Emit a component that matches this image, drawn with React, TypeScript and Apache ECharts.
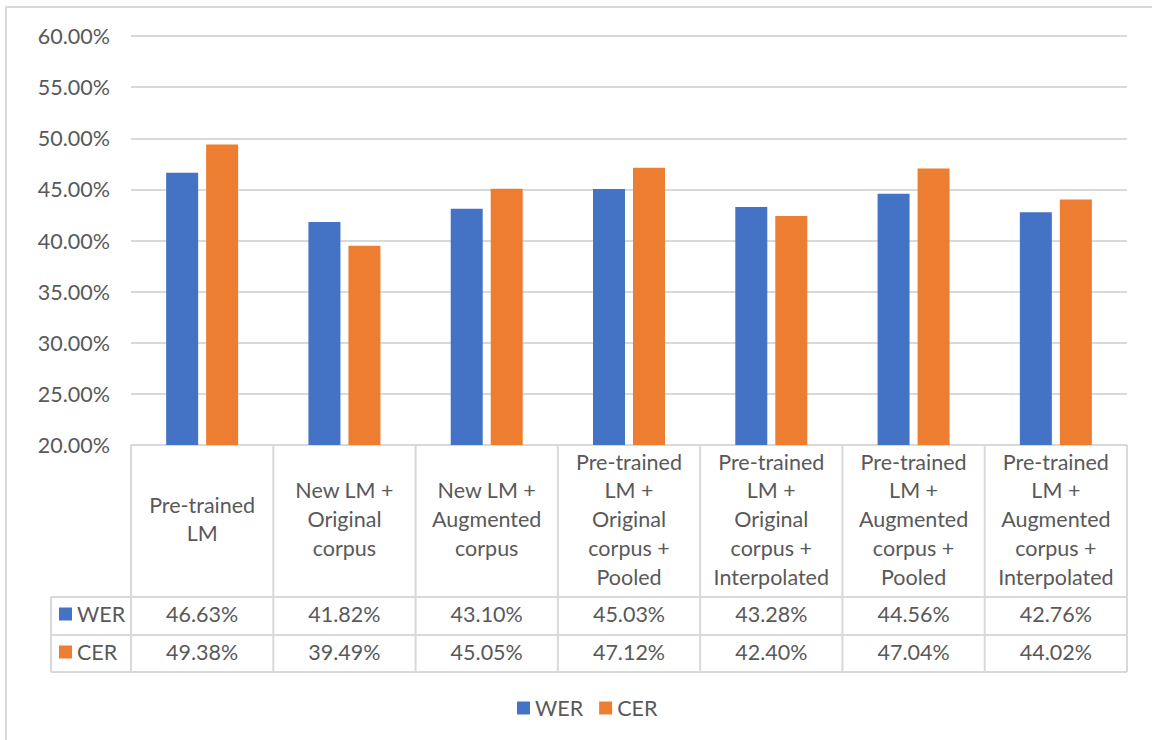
import React, { useEffect, useRef } from "react";
import * as echarts from "echarts";

// Category names as shown in the data-table header (wrapped the way they are printed)
const categoryLabels = [
  "Pre-trained\nLM",
  "New LM +\nOriginal\ncorpus",
  "New LM +\nAugmented\ncorpus",
  "Pre-trained\nLM +\nOriginal\ncorpus +\nPooled",
  "Pre-trained\nLM +\nOriginal\ncorpus +\nInterpolated",
  "Pre-trained\nLM +\nAugmented\ncorpus +\nPooled",
  "Pre-trained\nLM +\nAugmented\ncorpus +\nInterpolated",
];

const werValues = [0.4663, 0.4182, 0.431, 0.4503, 0.4328, 0.4456, 0.4276];
const cerValues = [0.4938, 0.3949, 0.4505, 0.4712, 0.424, 0.4704, 0.4402];

const yTicks = { min: 0.2, max: 0.6, step: 0.05 };

const pct = (v: number) => (v * 100).toFixed(2) + "%";

const FONT = "Lato, 'Open Sans', sans-serif";
const FS = 21.5;
const TEXT = "#595959";
const LINE = "#d9d9d9";
const BLUE = "#4472C4";
const ORANGE = "#ED7D31";

export default function App() {
  const ref = useRef<HTMLDivElement>(null);

  useEffect(() => {
    if (!ref.current) return;
    const chart = echarts.init(ref.current, undefined, { renderer: "svg" });

    const W = 1152;
    const H = 740;
    const gridLeft = 131;
    const gridRight = 1127;
    const gridTop = 36;
    const axisY = 445;
    const rowWer = 597;
    const rowCer = 635;
    const tableBottom = 672;
    const headLeft = 51;
    const n = categoryLabels.length;
    const colW = (gridRight - gridLeft) / n;

    const lines: any[] = [];
    const hLine = (x1: number, x2: number, y: number) =>
      lines.push({
        type: "line",
        shape: { x1, y1: y, x2, y2: y },
        style: { stroke: LINE, lineWidth: 2 },
        silent: true,
      });
    const vLine = (x: number, y1: number, y2: number) =>
      lines.push({
        type: "line",
        shape: { x1: x, y1, x2: x, y2 },
        style: { stroke: LINE, lineWidth: 2 },
        silent: true,
      });

    for (let i = 0; i <= n; i++) vLine(gridLeft + i * colW, axisY, tableBottom);
    hLine(gridLeft, gridRight, axisY);
    hLine(headLeft, gridRight, rowWer);
    hLine(headLeft, gridRight, rowCer);
    hLine(headLeft, gridRight, tableBottom);
    vLine(headLeft, rowWer, tableBottom);

    const labelBase = {
      fontFamily: FONT,
      fontSize: FS,
      color: TEXT,
      interval: 0,
      verticalAlign: "middle" as const,
    };

    chart.setOption({
      animation: false,
      backgroundColor: "#ffffff",
      textStyle: { fontFamily: FONT },
      graphic: [
        {
          type: "rect",
          shape: { x: 6, y: 7, width: W + 20, height: H + 20 },
          style: { fill: "none", stroke: LINE, lineWidth: 2 },
          silent: true,
        },
        ...lines,
      ],
      grid: {
        left: gridLeft,
        right: W - gridRight,
        top: gridTop,
        bottom: H - axisY,
      },
      legend: [
        {
          data: ["WER", "CER"],
          left: 512,
          top: 692,
          icon: "rect",
          itemWidth: 13,
          itemHeight: 13,
          itemGap: 16,
          textStyle: { fontFamily: FONT, fontSize: FS, color: TEXT },
          selectedMode: false,
        },
        {
          data: ["WER", "CER"],
          orient: "vertical",
          left: 54,
          top: 598,
          icon: "rect",
          itemWidth: 13,
          itemHeight: 13,
          itemGap: 16,
          textStyle: { fontFamily: FONT, fontSize: FS, color: TEXT },
          selectedMode: false,
        },
      ],
      xAxis: [
        {
          type: "category",
          data: categoryLabels,
          position: "bottom",
          axisLine: { show: false },
          axisTick: { show: false },
          axisLabel: { ...labelBase, margin: (rowWer - axisY) / 2 - 2, lineHeight: 28.75 },
        },
        {
          type: "category",
          data: werValues.map(pct),
          position: "bottom",
          offset: 0,
          axisLine: { show: false },
          axisTick: { show: false },
          axisLabel: { ...labelBase, margin: (rowWer + rowCer) / 2 - axisY - 2 },
        },
        {
          type: "category",
          data: cerValues.map(pct),
          position: "bottom",
          offset: 0,
          axisLine: { show: false },
          axisTick: { show: false },
          axisLabel: { ...labelBase, margin: (rowCer + tableBottom) / 2 - axisY - 2 },
        },
      ],
      yAxis: {
        type: "value",
        min: yTicks.min,
        max: yTicks.max,
        interval: yTicks.step,
        axisLine: { show: false },
        axisTick: { show: false },
        splitLine: { lineStyle: { color: LINE, width: 2 } },
        axisLabel: {
          fontFamily: FONT,
          fontSize: FS,
          color: TEXT,
          margin: 21,
          formatter: (v: number) => pct(v),
        },
      },
      series: [
        {
          name: "WER",
          type: "bar",
          xAxisIndex: 0,
          data: werValues,
          barWidth: 32,
          barGap: "25%",
          itemStyle: { color: BLUE },
        },
        {
          name: "CER",
          type: "bar",
          xAxisIndex: 0,
          data: cerValues,
          barWidth: 32,
          barGap: "25%",
          itemStyle: { color: ORANGE },
        },
      ],
    });

    return () => chart.dispose();
  }, []);

  return (
    <div
      ref={ref}
      style={{ position: "absolute", left: 0, top: 0, width: 1152, height: 740 }}
    />
  );
}
